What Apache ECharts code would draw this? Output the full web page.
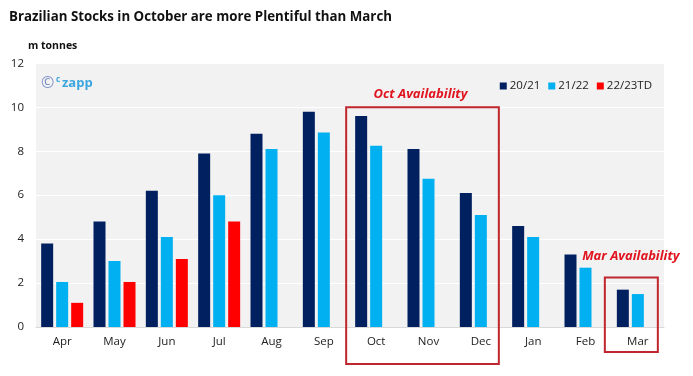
<!DOCTYPE html>
<html><head><meta charset="utf-8">
<script src="https://cdn.jsdelivr.net/npm/echarts@6/dist/echarts.min.js"></script>
<style>html,body{margin:0;padding:0;background:#fff}#c{width:693px;height:376px}</style>
</head><body><div id="c"></div>
<script>
const months = ['Apr','May','Jun','Jul','Aug','Sep','Oct','Nov','Dec','Jan','Feb','Mar'];
const s2021 = [3.8, 4.8, 6.2, 7.9, 8.8, 9.8, 9.6, 8.1, 6.1, 4.6, 3.3, 1.7];
const s2122 = [2.05, 3.0, 4.1, 6.0, 8.1, 8.85, 8.25, 6.75, 5.1, 4.1, 2.7, 1.5];
const s2223 = [1.1, 2.05, 3.1, 4.8, null, null, null, null, null, null, null, null];
const seriesNames = ['20/21','21/22','22/23TD'];
const yTicks = [0, 12, 2];

const FONT = 'Open Sans';
const chart = echarts.init(document.getElementById('c'));
const mk = (name, data, color) => ({
  name, type: 'bar', data, barWidth: 12, barGap: '25%',
  itemStyle: { color }, emphasis: { disabled: true }
});
chart.setOption({
  animation: false,
  textStyle: { fontFamily: FONT },
  title: [
    { text: 'Brazilian Stocks in October are more Plentiful than March', left: 4, top: 6,
      textStyle: { fontFamily: FONT, fontSize: 13.3, fontWeight: 'bold', color: '#111' } },
    { text: 'm tonnes', left: 23, top: 36,
      textStyle: { fontFamily: FONT, fontSize: 10.5, fontWeight: 'bold', color: '#111' } }
  ],
  legend: {
    right: 36, top: 75, itemWidth: 7, itemHeight: 7, itemGap: 8,
    icon: 'rect',
    textStyle: { fontFamily: FONT, fontSize: 11.5, color: '#222', padding: [0,0,0,-2] },
    data: seriesNames
  },
  grid: { left: 36, right: 29, top: 63.4, bottom: 49, show: true, backgroundColor: '#F2F2F2', borderWidth: 0 },
  xAxis: {
    type: 'category', data: months,
    axisLine: { lineStyle: { color: '#D9D9D9', width: 1 } },
    axisTick: { show: false },
    axisLabel: { fontFamily: FONT, fontSize: 11.5, color: '#222', margin: 9 }
  },
  yAxis: {
    type: 'value', min: yTicks[0], max: yTicks[1], interval: yTicks[2],
    axisLine: { show: false }, axisTick: { show: false },
    splitLine: { lineStyle: { color: '#FFFFFF', width: 1 } },
    axisLabel: { fontFamily: FONT, fontSize: 11.5, color: '#222', margin: 12 }
  },
  series: [
    mk(seriesNames[0], s2021, '#002060'),
    mk(seriesNames[1], s2122, '#00B0F0'),
    mk(seriesNames[2], s2223, '#FF0000')
  ]
});

function drawAnnotations() {
  const px = (cat, v) => chart.convertToPixel({ gridIndex: 0 }, [cat, v]);
  const base = px('Apr', 0)[1];
  const oct = px('Oct', 10), dec = px('Dec', 10);
  const mar = px('Mar', 2.25);
  const red = '#C0262D';
  chart.setOption({
    graphic: [
      { type: 'text', left: 41, top: 75, style: { text: '©', fontSize: 16, fill: '#7A8FC8', fontFamily: FONT } },
      { type: 'text', left: 56, top: 76, style: { text: 'c', fontSize: 8, fill: '#3BA6DE', fontFamily: FONT, fontWeight: 'bold' } },
      { type: 'text', left: 62, top: 77, style: { text: 'zapp', fontSize: 13, fill: '#3BA6DE', fontFamily: FONT, fontWeight: 'bold' } },
      { type: 'rect', shape: { x: oct[0] - 30, y: oct[1], width: (dec[0] + 18) - (oct[0] - 30), height: base + 37 - oct[1] },
        style: { fill: 'none', stroke: red, lineWidth: 2 }, z: 100 },
      { type: 'text', x: (oct[0] + dec[0]) / 2 - 8, y: oct[1] - 13,
        style: { text: 'Oct Availability', fontSize: 13, fontWeight: 'bold', fontStyle: 'italic', fill: '#E0141E', fontFamily: FONT, align: 'center', verticalAlign: 'middle' }, z: 100 },
      { type: 'rect', shape: { x: mar[0] - 33, y: mar[1], width: 53, height: base + 25 - mar[1] },
        style: { fill: 'none', stroke: red, lineWidth: 2 }, z: 100 },
      { type: 'text', x: mar[0] - 7, y: mar[1] - 21,
        style: { text: 'Mar Availability', fontSize: 13, fontWeight: 'bold', fontStyle: 'italic', fill: '#E0141E', fontFamily: FONT, align: 'center', verticalAlign: 'middle' }, z: 100 }
    ]
  });
}
drawAnnotations();
</script></body></html>
